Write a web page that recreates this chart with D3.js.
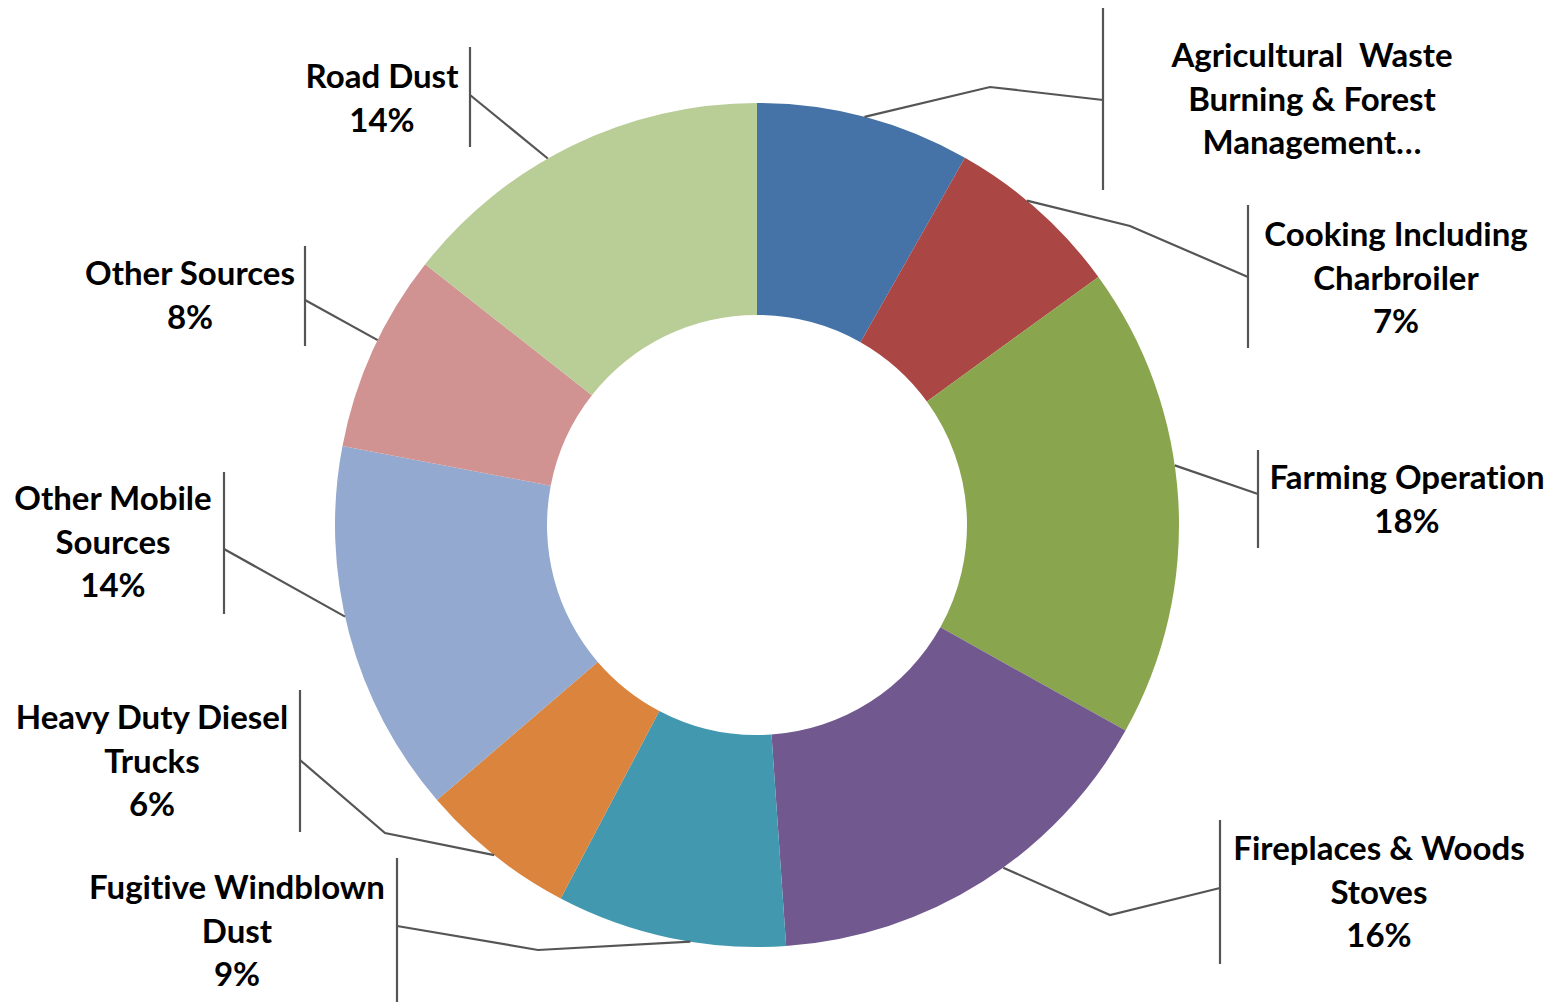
<!DOCTYPE html>
<html>
<head>
<meta charset="utf-8">
<script src="https://cdn.jsdelivr.net/npm/d3@7"></script>
<style>
  html, body { margin: 0; padding: 0; background: #fff; }
  svg { display: block; }
  text { font-family: Lato, "Open Sans", sans-serif; font-weight: 700; fill: #000; white-space: pre;
         font-variant-ligatures: none; font-feature-settings: "liga" 0; }
</style>
</head>
<body>
<svg id="chart" width="1557" height="1002"></svg>
<script>
// ---- data ----
const categories = [
  "Agricultural Waste Burning & Forest Management",
  "Cooking Including Charbroiler",
  "Farming Operation",
  "Fireplaces & Woods Stoves",
  "Fugitive Windblown Dust",
  "Heavy Duty Diesel Trucks",
  "Other Mobile Sources",
  "Other Sources",
  "Road Dust"
];
const values = [8.2, 6.8, 18.1, 15.8, 8.8, 6.0, 14.3, 7.6, 14.4];
const colors = ["#4572A7", "#AA4643", "#89A54E", "#71588F", "#4198AF",
                "#DB843D", "#93A9CF", "#D19392", "#B9CD96"];
const labelLines = [
  ["Agricultural  Waste", "Burning & Forest", "Management…"],
  ["Cooking Including", "Charbroiler"],
  ["Farming Operation"],
  ["Fireplaces & Woods", "Stoves"],
  ["Fugitive Windblown", "Dust"],
  ["Heavy Duty Diesel", "Trucks"],
  ["Other Mobile", "Sources"],
  ["Other Sources"],
  ["Road Dust"]
];
const showPercent = [false, true, true, true, true, true, true, true, true];

// ---- layout (label boxes & leader geometry) ----
const labelLayout = [
  { x: 1312, y: 67,  bx: 1103, by: [8, 190],    elbow: [990, 87],   join: 100, shift: 0 },
  { x: 1396, y: 246, bx: 1248, by: [205, 348],  elbow: [1130, 226], join: 277, shift: -2 },
  { x: 1407, y: 489, bx: 1258, by: [450, 548],  elbow: null,        join: 494, shift: -4.7 },
  { x: 1379, y: 860, bx: 1220, by: [820, 964],  elbow: [1110, 915], join: 888, shift: -3.3 },
  { x: 237,  y: 899, bx: 397,  by: [858, 1010], elbow: [538, 950],  join: 926, shift: -2.8 },
  { x: 152,  y: 729, bx: 300,  by: [690, 832],  elbow: [385, 833],  join: 760, shift: 0 },
  { x: 113,  y: 510, bx: 224,  by: [472, 614],  elbow: null,        join: 549, shift: 2.4 },
  { x: 190,  y: 285, bx: 305,  by: [246, 346],  elbow: null,        join: 300, shift: 1.5 },
  { x: 382,  y: 88,  bx: 470,  by: [47, 147],   elbow: null,        join: 95,  shift: -3.8 }
];

const cx = 757, cy = 525, R = 422, r = 210;
const fontSize = 33, lineH = 43.5;

const svg = d3.select("#chart");
const data = categories.map((c, i) => ({ name: c, value: values[i], i }));

const pie = d3.pie().value(d => d.value).sort(null);
const arcs = pie(data);
const arc = d3.arc().innerRadius(r).outerRadius(R);

const g = svg.append("g").attr("transform", `translate(${cx},${cy})`);
g.selectAll("path.slice").data(arcs).join("path")
  .attr("class", "slice")
  .attr("d", arc)
  .attr("fill", d => colors[d.data.i]);

// leader lines
const lineColor = "#555555";
const lg = svg.append("g").attr("fill", "none").attr("stroke", lineColor).attr("stroke-width", 2.2);
arcs.forEach((a, i) => {
  const L = labelLayout[i];
  const mid = (a.startAngle + a.endAngle) / 2 + L.shift * Math.PI / 180;
  const ax = cx + Math.sin(mid) * R, ay = cy - Math.cos(mid) * R;
  const pts = [[ax, ay]];
  if (L.elbow) pts.push(L.elbow);
  pts.push([L.bx, L.join]);
  lg.append("path").attr("d", d3.line()(pts));
  lg.append("line").attr("x1", L.bx).attr("x2", L.bx).attr("y1", L.by[0]).attr("y2", L.by[1]);
});

// labels
const tg = svg.append("g").attr("text-anchor", "middle").attr("font-size", fontSize);
arcs.forEach((a, i) => {
  const L = labelLayout[i];
  const lines = labelLines[i].slice();
  if (showPercent[i]) lines.push(Math.round(values[i]) + "%");
  const t = tg.append("text").attr("x", L.x).attr("y", L.y);
  lines.forEach((ln, k) => {
    t.append("tspan").attr("x", L.x).attr("y", L.y + k * lineH).text(ln);
  });
});
</script>
</body>
</html>
